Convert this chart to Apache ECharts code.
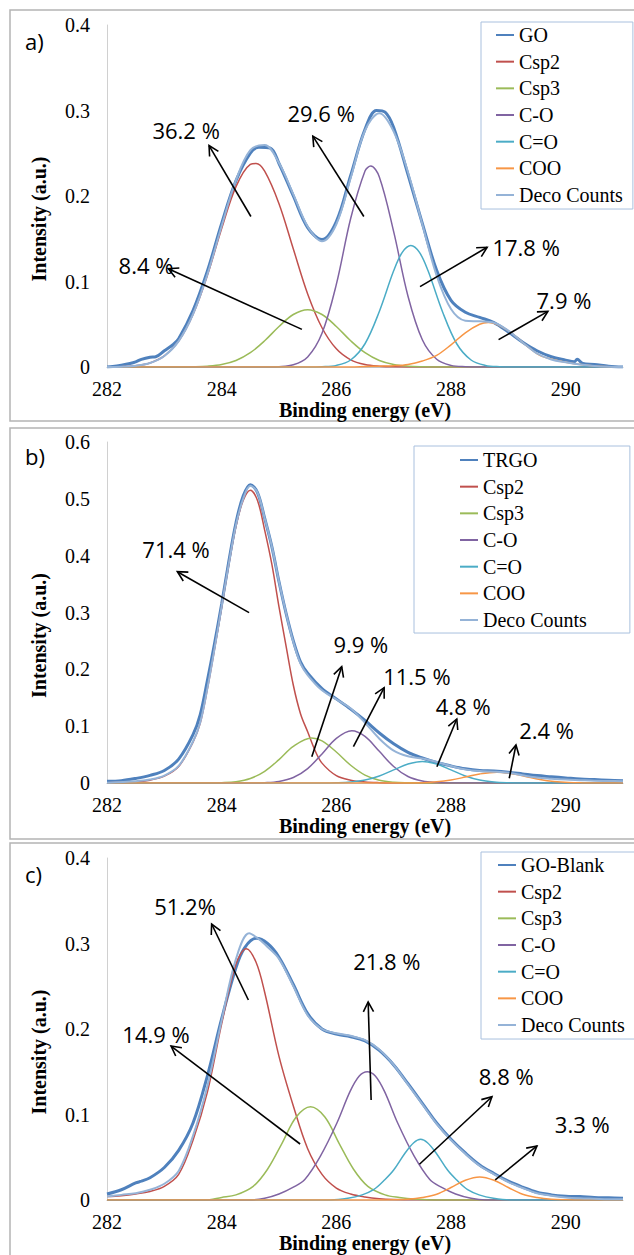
<!DOCTYPE html>
<html><head><meta charset="utf-8">
<script src="https://cdn.jsdelivr.net/npm/echarts@6/dist/echarts.min.js"></script>
<style>html,body{margin:0;padding:0;background:#fff}#c{width:634px;height:1255px}</style>
</head><body><div id="c"></div>
<script>
// ---------- axes / tick labels ----------
const xTicks = [282, 284, 286, 288, 290];
const xMax = 291;
const yTicksA = [0, 0.1, 0.2, 0.3, 0.4];
const yTicksB = [0, 0.1, 0.2, 0.3, 0.4, 0.5, 0.6];
const yTicksC = [0, 0.1, 0.2, 0.3, 0.4];
const componentNames = ['Csp2', 'Csp3', 'C-O', 'C=O', 'COO'];
const decoName = 'Deco Counts';
const measuredNames = ['GO', 'TRGO', 'GO-Blank'];
const panelTags = ['a)', 'b)', 'c)'];

// ---------- panel a (GO) ----------
const aGO = [[282,0],[282.1,0.0005],[282.25,0.002],[282.4,0.004],[282.5,0.006],[282.6,0.009],[282.75,0.0115],[282.85,0.012],[283,0.019],[283.15,0.026],[283.25,0.033],[283.5,0.066],[283.75,0.112],[284,0.168],[284.25,0.218],[284.5,0.25],[284.65,0.257],[284.85,0.256],[285,0.238],[285.25,0.2],[285.5,0.163],[285.75,0.149],[286,0.17],[286.25,0.224],[286.5,0.278],[286.7,0.3],[286.85,0.298],[287,0.28],[287.25,0.225],[287.5,0.168],[287.75,0.113],[288,0.078],[288.25,0.064],[288.5,0.058],[288.75,0.052],[289,0.041],[289.25,0.029],[289.5,0.019],[289.75,0.012],[290,0.008],[290.15,0.006],[290.2,0.009],[290.3,0.004],[290.5,0.003],[290.75,0.001],[291,0]];
const aCsp2 = [[282,0.0001],[282.25,0.0004],[282.5,0.0015],[282.75,0.0047],[283,0.0129],[283.25,0.0303],[283.5,0.0614],[283.75,0.107],[284,0.162],[284.25,0.211],[284.5,0.237],[284.6,0.238],[284.75,0.229],[285,0.191],[285.25,0.138],[285.5,0.0855],[285.75,0.0459],[286,0.0212],[286.25,0.0084],[286.5,0.0029],[286.75,0.0009],[287,0.0002],[287.5,0],[291,0]];
const aCsp3 = [[282,0],[283.25,0],[283.5,0.0003],[283.75,0.001],[284,0.0029],[284.25,0.0076],[284.5,0.0167],[284.75,0.0307],[285,0.0474],[285.25,0.0614],[285.5,0.067],[285.75,0.0614],[286,0.0474],[286.25,0.0307],[286.5,0.0167],[286.75,0.0076],[287,0.0029],[287.25,0.001],[287.5,0.0003],[287.75,0],[291,0]];
const aCO = [[282,0],[284.75,0],[285,0.0004],[285.25,0.0026],[285.5,0.0118],[285.75,0.0395],[286,0.0966],[286.25,0.1737],[286.5,0.2293],[286.6,0.235],[286.75,0.2223],[287,0.1583],[287.25,0.0828],[287.5,0.0318],[287.75,0.009],[288,0.0019],[288.25,0.0003],[288.5,0],[291,0]];
const aCdO = [[282,0],[285.5,0],[285.75,0.0003],[286,0.0018],[286.25,0.0082],[286.5,0.0272],[286.75,0.065],[287,0.1125],[287.15,0.134],[287.3,0.142],[287.45,0.134],[287.6,0.1125],[287.85,0.065],[288.1,0.0272],[288.35,0.0082],[288.6,0.0018],[288.85,0.0003],[289.1,0],[291,0]];
const aCOO = [[282,0],[286.25,0],[286.5,0.0005],[286.75,0.001],[287,0.0015],[287.25,0.003],[287.5,0.007],[287.75,0.0136],[288,0.0259],[288.25,0.04],[288.5,0.05],[288.65,0.052],[288.8,0.05],[289.05,0.04],[289.3,0.0259],[289.55,0.0136],[289.8,0.0085],[290.05,0.005],[290.3,0.0025],[290.55,0.001],[290.8,0.0003],[291,0]];
const aDeco = [[282,0.0001],[282.25,0.0004],[282.5,0.0015],[282.75,0.0047],[283,0.0129],[283.25,0.0303],[283.5,0.0617],[283.75,0.108],[284,0.165],[284.25,0.2186],[284.5,0.2537],[284.75,0.2597],[285,0.2386],[285.25,0.202],[285.5,0.1643],[285.75,0.1471],[286,0.167],[286.25,0.221],[286.5,0.2766],[286.75,0.2968],[287,0.2754],[287.25,0.2278],[287.5,0.167],[287.75,0.1068],[288,0.0678],[288.25,0.0541],[288.5,0.0534],[288.75,0.0518],[289,0.0425],[289.25,0.0287],[289.5,0.0158],[289.75,0.0088],[290,0.0055],[290.25,0.003],[290.5,0.0013],[290.75,0.0004],[291,0]];
const aNoteText = ['36.2 %', '29.6 %', '8.4 %', '17.8 %', '7.9 %'];
const aNoteAt = [[283.38,0.277],[285.735,0.297],[282.68,0.119],[289.31,0.1404],[289.97,0.0784]];
const aArrows = [[284.51,0.176,283.78,0.259],[286.48,0.176,285.59,0.270],[285.40,0.044,283.07,0.115],[287.46,0.094,288.63,0.140],[288.83,0.032,289.69,0.065]];

// ---------- panel b (TRGO) ----------
const bTRGO = [[282,0.003],[282.25,0.004],[282.5,0.008],[282.75,0.0135],[283,0.022],[283.25,0.042],[283.5,0.085],[283.625,0.12],[283.75,0.18],[283.875,0.245],[284,0.315],[284.125,0.39],[284.25,0.458],[284.375,0.505],[284.5,0.525],[284.625,0.511],[284.75,0.466],[284.875,0.416],[285,0.354],[285.125,0.298],[285.25,0.25],[285.375,0.213],[285.5,0.193],[285.75,0.166],[286,0.148],[286.25,0.13],[286.5,0.11],[286.75,0.088],[287,0.069],[287.25,0.054],[287.5,0.044],[287.75,0.036],[288,0.03],[288.25,0.025],[288.5,0.022],[288.75,0.021],[289,0.019],[289.25,0.016],[289.5,0.013],[289.75,0.011],[290,0.009],[290.25,0.007],[290.5,0.006],[290.75,0.005],[291,0.004]];
const bCsp2 = [[282,0.0003],[282.5,0.002],[282.75,0.005],[283,0.012],[283.25,0.029],[283.5,0.072],[283.625,0.105],[283.75,0.165],[283.875,0.235],[284,0.31],[284.125,0.385],[284.25,0.452],[284.375,0.497],[284.5,0.515],[284.625,0.497],[284.75,0.445],[284.875,0.385],[285,0.31],[285.125,0.24],[285.25,0.172],[285.375,0.122],[285.5,0.09],[285.625,0.058],[285.75,0.035],[286,0.013],[286.25,0.005],[286.5,0.0018],[286.75,0.0006],[287,0.0002],[287.5,0],[291,0]];
const bCsp3 = [[282,0],[283.75,0],[284,0.0006],[284.25,0.0024],[284.5,0.008],[284.75,0.0206],[285,0.0412],[285.25,0.0644],[285.57,0.079],[285.75,0.074],[286,0.0546],[286.25,0.0313],[286.5,0.014],[286.75,0.0049],[287,0.0013],[287.25,0.0003],[287.5,0],[291,0]];
const bCO = [[282,0],[284.5,0],[284.75,0.0006],[285,0.0028],[285.25,0.0096],[285.5,0.0254],[285.75,0.0512],[286,0.0786],[286.27,0.092],[286.5,0.082],[286.75,0.0558],[287,0.029],[287.25,0.0114],[287.5,0.0035],[287.75,0.0008],[288,0.0001],[288.25,0],[291,0]];
const bCdO = [[282,0],[285.75,0],[286,0.0004],[286.25,0.0017],[286.5,0.0051],[286.75,0.0123],[287,0.023],[287.25,0.0335],[287.5,0.038],[287.75,0.0335],[288,0.023],[288.25,0.0123],[288.5,0.0051],[288.75,0.0017],[289,0.0004],[289.25,0],[291,0]];
const bCOO = [[282,0],[287.25,0],[287.5,0.0006],[287.75,0.0021],[288,0.0053],[288.25,0.0104],[288.5,0.0159],[288.8,0.019],[289.05,0.0168],[289.3,0.0115],[289.55,0.0062],[289.8,0.0026],[290.05,0.0008],[290.3,0.0002],[290.55,0],[291,0]];
const bDeco = [[282,0.0005],[282.5,0.003],[282.75,0.006],[283,0.013],[283.25,0.03],[283.5,0.073],[283.625,0.106],[283.75,0.166],[283.875,0.236],[284,0.311],[284.125,0.386],[284.25,0.454],[284.375,0.5],[284.5,0.523],[284.625,0.511],[284.75,0.466],[284.875,0.416],[285,0.354],[285.125,0.298],[285.25,0.248],[285.375,0.21],[285.5,0.19],[285.75,0.163],[286,0.147],[286.25,0.131],[286.5,0.106],[286.75,0.078],[287,0.057],[287.25,0.047],[287.5,0.043],[287.75,0.037],[288,0.03],[288.25,0.024],[288.5,0.021],[288.75,0.02],[289,0.018],[289.25,0.0135],[289.5,0.0095],[289.75,0.0075],[290,0.006],[290.25,0.005],[290.5,0.004],[290.75,0.0035],[291,0.003]];
const bNoteText = ['71.4 %', '9.9 %', '11.5 %', '4.8 %', '2.4 %'];
const bNoteAt = [[283.204,0.4118],[286.428,0.2446],[287.405,0.1883],[288.213,0.1355],[289.667,0.0941]];
const bArrows = [[284.478,0.2997,283.227,0.3718],[285.572,0.0463,286.094,0.2046],[286.298,0.0639,286.834,0.1677],[287.754,0.0287,288.101,0.1126],[289.016,0.0083,289.133,0.0669]];

// ---------- panel c (GO-Blank) ----------
const cGOBlank = [[282,0.007],[282.25,0.012],[282.5,0.02],[282.6,0.022],[282.75,0.026],[283,0.038],[283.25,0.058],[283.5,0.09],[283.75,0.145],[284,0.212],[284.25,0.272],[284.4,0.295],[284.6,0.306],[284.8,0.3],[285,0.284],[285.25,0.252],[285.5,0.218],[285.75,0.2],[286,0.194],[286.25,0.191],[286.5,0.186],[286.75,0.175],[287,0.158],[287.25,0.136],[287.5,0.113],[287.75,0.09],[288,0.071],[288.25,0.055],[288.5,0.041],[288.75,0.031],[289,0.022],[289.25,0.015],[289.5,0.009],[289.75,0.006],[290,0.0045],[290.25,0.004],[290.5,0.003],[290.75,0.0025],[291,0.002]];
const cCsp2 = [[282,0.004],[282.25,0.005],[282.5,0.007],[282.75,0.01],[283,0.016],[283.25,0.03],[283.5,0.07],[283.75,0.126],[284,0.206],[284.25,0.276],[284.43,0.294],[284.6,0.278],[284.75,0.243],[285,0.168],[285.25,0.11],[285.5,0.06],[285.75,0.03],[286,0.014],[286.25,0.007],[286.5,0.0035],[286.75,0.0015],[287,0.0007],[287.5,0.0002],[288,0],[291,0]];
const cCsp3 = [[282,0],[283.7,0],[284,0.003],[284.25,0.006],[284.55,0.016],[284.8,0.036],[285.05,0.066],[285.3,0.097],[285.55,0.109],[285.8,0.097],[286.05,0.066],[286.3,0.036],[286.55,0.016],[286.85,0.006],[287.1,0.003],[287.4,0.001],[287.7,0],[291,0]];
const cCO = [[282,0],[284.5,0],[284.75,0.002],[285,0.007],[285.25,0.015],[285.45,0.024],[285.72,0.051],[286.01,0.09],[286.24,0.127],[286.4,0.145],[286.54,0.15],[286.68,0.145],[286.84,0.127],[287.07,0.09],[287.36,0.051],[287.63,0.024],[287.83,0.015],[288.08,0.007],[288.35,0.002],[288.6,0],[291,0]];
const cCdO = [[282,0],[285.9,0],[286.2,0.002],[286.45,0.006],[286.65,0.012],[286.85,0.024],[287,0.035],[287.2,0.055],[287.35,0.067],[287.47,0.071],[287.59,0.067],[287.74,0.055],[287.94,0.035],[288.09,0.024],[288.29,0.012],[288.49,0.006],[288.74,0.002],[289.05,0],[291,0]];
const cCOO = [[282,0],[286.75,0],[287,0.0003],[287.25,0.001],[287.5,0.003],[287.75,0.0067],[288,0.0146],[288.25,0.0231],[288.5,0.027],[288.75,0.0231],[289,0.0146],[289.25,0.0067],[289.5,0.003],[289.75,0.001],[290,0.0003],[290.25,0],[291,0]];
const cDeco = [[282,0.004],[282.25,0.006],[282.5,0.008],[282.75,0.012],[283,0.019],[283.25,0.034],[283.5,0.075],[283.75,0.133],[284,0.21],[284.25,0.282],[284.48,0.312],[284.65,0.305],[284.8,0.296],[285,0.282],[285.25,0.25],[285.5,0.216],[285.75,0.2],[286,0.195],[286.25,0.192],[286.5,0.187],[286.75,0.176],[287,0.158],[287.25,0.135],[287.5,0.112],[287.75,0.089],[288,0.07],[288.25,0.054],[288.5,0.04],[288.75,0.03],[289,0.021],[289.25,0.014],[289.5,0.008],[289.75,0.005],[290,0.003],[290.25,0.002],[290.5,0.0015],[290.75,0.001],[291,0.001]];
const cNoteText = ['51.2%', '14.9 %', '21.8 %', '8.8 %', '3.3 %'];
const cNoteAt = [[283.361,0.3444],[282.855,0.1936],[286.881,0.2795],[288.963,0.145],[290.29,0.0889]];
const cArrows = [[284.466,0.2339,283.825,0.3228],[285.368,0.0655,283.117,0.1801],[286.607,0.117,286.555,0.2316],[287.45,0.0418,288.714,0.1208],[288.771,0.0234,289.499,0.0632]];

// ---------- styling / layout ----------
const measuredColor = '#4F81BD';
const decoColor = '#95B3D7';
const compColors = ['#C0504D', '#9BBB59', '#8064A2', '#4BACC6', '#F79646'];
const SERIF = '"Liberation Serif", "Times New Roman", serif';
const SANS = '"Open Sans", "Liberation Sans", sans-serif';

const panels = [
  { measured: aGO, comps: [aCsp2, aCsp3, aCO, aCdO, aCOO], deco: aDeco, yTicks: yTicksA,
    notes: aNoteText, noteAt: aNoteAt, arrows: aArrows,
    grid: { left: 107, top: 25, width: 516, height: 342 },
    legend: { left: 481, top: 22, padding: [3, 10, 4, 14] },
    frame: { y: 10, h: 411 }, tagY: 41 },
  { measured: bTRGO, comps: [bCsp2, bCsp3, bCO, bCdO, bCOO], deco: bDeco, yTicks: yTicksB,
    notes: bNoteText, noteAt: bNoteAt, arrows: bArrows,
    grid: { left: 107, top: 442, width: 516, height: 341 },
    legend: { left: 414, top: 446, padding: [4, 43, 3, 45] },
    frame: { y: 428, h: 411 }, tagY: 456 },
  { measured: cGOBlank, comps: [cCsp2, cCsp3, cCO, cCdO, cCOO], deco: cDeco, yTicks: yTicksC,
    notes: cNoteText, noteAt: cNoteAt, arrows: cArrows,
    grid: { left: 107, top: 858, width: 516, height: 342 },
    legend: { left: 481, top: 852, padding: [3, 11, 4, 16] },
    frame: { y: 843, h: 430 }, tagY: 874 }
];

const grids = [], xAxes = [], yAxes = [], legends = [], series = [], graphics = [];

panels.forEach((p, i) => {
  grids.push(Object.assign({ containLabel: false }, p.grid));
  xAxes.push({
    type: 'value', gridIndex: i, min: xTicks[0], max: xMax, interval: xTicks[1] - xTicks[0],
    name: 'Binding energy (eV)', nameLocation: 'middle', nameGap: 33,
    nameTextStyle: { fontFamily: SERIF, fontWeight: 'bold', fontSize: 20, color: '#000' },
    axisLine: { show: true, onZero: false, lineStyle: { color: '#BFBFBF', width: 1 } },
    axisTick: { show: false }, splitLine: { show: false },
    axisLabel: { margin: 12, fontFamily: SERIF, fontSize: 20, color: '#000', showMaxLabel: false,
      formatter: v => (xTicks.some(t => Math.abs(t - v) < 1e-9) ? String(v) : '') }
  });
  const yt = p.yTicks;
  yAxes.push({
    type: 'value', gridIndex: i, min: yt[0], max: yt[yt.length - 1], interval: yt[1] - yt[0],
    name: 'Intensity (a.u.)', nameLocation: 'middle', nameGap: 58, nameRotate: 90,
    nameTextStyle: { fontFamily: SERIF, fontWeight: 'bold', fontSize: 20, color: '#000', padding: [0, 46, 0, 0] },
    axisLine: { show: true, lineStyle: { color: '#D0D0D0', width: 1 } },
    axisTick: { show: false }, splitLine: { show: false },
    axisLabel: { margin: 17, fontFamily: SERIF, fontSize: 20, color: '#000',
      formatter: v => { const t = yt.find(t => Math.abs(t - v) < 1e-9); return t === undefined ? '' : String(t); } }
  });
  legends.push({
    data: [measuredNames[i]].concat(componentNames, [decoName]),
    orient: 'vertical', left: p.legend.left, top: p.legend.top, padding: p.legend.padding,
    itemGap: 6.67, itemWidth: 18, itemHeight: 14, selectedMode: false,
    itemStyle: { opacity: 0 },
    textStyle: { fontFamily: SERIF, fontSize: 20, color: '#000', lineHeight: 20 },
    borderColor: '#A9C0DE', borderWidth: 1, backgroundColor: '#fff'
  });
  const base = { type: 'line', xAxisIndex: i, yAxisIndex: i, symbol: 'none', showSymbol: false,
    smooth: 0.35, animation: false, silent: true };
  series.push(Object.assign({}, base, { name: measuredNames[i], data: p.measured, z: 2,
    lineStyle: { color: measuredColor, width: 3 }, itemStyle: { color: measuredColor } }));
  p.comps.forEach((d, k) => {
    series.push(Object.assign({}, base, { name: componentNames[k], data: d, z: 3,
      lineStyle: { color: compColors[k], width: 1.5 }, itemStyle: { color: compColors[k] } }));
  });
  series.push(Object.assign({}, base, { name: decoName, data: p.deco, z: 4,
    lineStyle: { color: decoColor, width: 2 }, itemStyle: { color: decoColor } }));
  // arrows
  series.push({
    type: 'custom', xAxisIndex: i, yAxisIndex: i, data: p.arrows, z: 10, silent: true, clip: false,
    animation: false,
    renderItem: (params, api) => {
      const p1 = api.coord([api.value(0), api.value(1)]);
      const p2 = api.coord([api.value(2), api.value(3)]);
      const ang = Math.atan2(p2[1] - p1[1], p2[0] - p1[0]);
      const L = 11, th = Math.PI / 6.5;
      const h1 = [p2[0] - L * Math.cos(ang - th), p2[1] - L * Math.sin(ang - th)];
      const h2 = [p2[0] - L * Math.cos(ang + th), p2[1] - L * Math.sin(ang + th)];
      return { type: 'group', children: [
        { type: 'line', shape: { x1: p1[0], y1: p1[1], x2: p2[0], y2: p2[1] }, style: { stroke: '#000', lineWidth: 1.6 } },
        { type: 'polyline', shape: { points: [h1, p2, h2] }, style: { stroke: '#000', lineWidth: 1.6, fill: null } }
      ] };
    }
  });
  // percentage labels
  const texts = p.notes;
  series.push({
    type: 'custom', xAxisIndex: i, yAxisIndex: i, data: p.noteAt, z: 11, silent: true, clip: false,
    animation: false,
    renderItem: (params, api) => {
      const pt = api.coord([api.value(0), api.value(1)]);
      return { type: 'text', x: pt[0], y: pt[1],
        style: { text: texts[params.dataIndex], fill: '#000', fontSize: 22, fontFamily: SANS,
          align: 'center', verticalAlign: 'middle' } };
    }
  });
  graphics.push({ type: 'rect', z: -1, shape: { x: 10, y: p.frame.y, width: 640, height: p.frame.h },
    style: { fill: 'none', stroke: '#B4B4B4', lineWidth: 1.5 } });
  graphics.push({ type: 'text', z: 5, x: 25, y: p.tagY,
    style: { text: panelTags[i], fill: '#000', fontSize: 22, fontFamily: SANS, verticalAlign: 'middle' } });
});

const chart = echarts.init(document.getElementById('c'), null, { renderer: 'svg', width: 634, height: 1255 });
chart.setOption({
  animation: false,
  backgroundColor: '#fff',
  grid: grids, xAxis: xAxes, yAxis: yAxes, legend: legends, series: series, graphic: graphics
});
</script></body></html>
